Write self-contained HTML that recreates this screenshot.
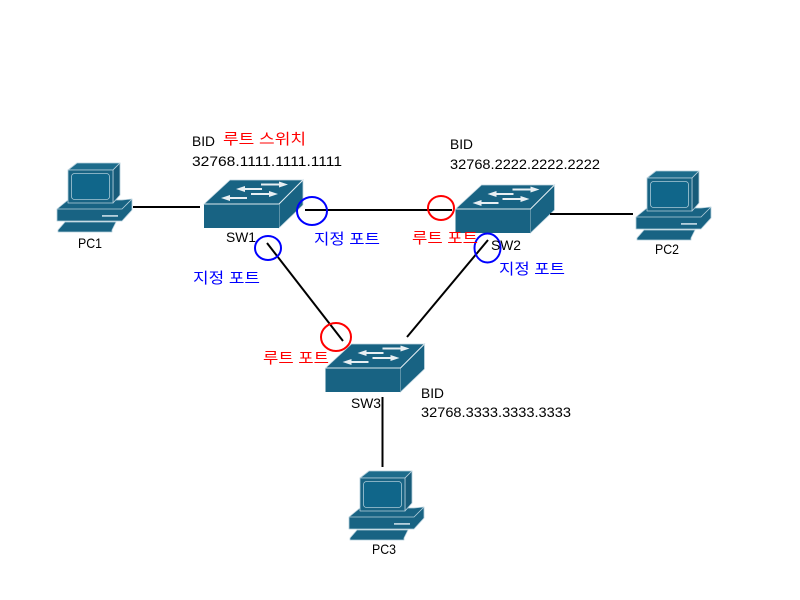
<!DOCTYPE html>
<html>
<head>
<meta charset="utf-8">
<style>
html,body{margin:0;padding:0;background:#fff;width:800px;height:600px;overflow:hidden}
svg{display:block}
text{font-family:"Liberation Sans","Noto Sans CJK KR",sans-serif;font-size:14px;fill:#000}
.k{font-size:15px}
.r{fill:#f00}
.b{fill:#00f}
.l{stroke:#000;stroke-width:2;fill:none}
.c{fill:none;stroke-width:2}
</style>
</head>
<body>
<svg width="800" height="600" viewBox="0 0 800 600" xmlns="http://www.w3.org/2000/svg">
<defs>
<g id="pc" stroke="#b5cfdc" stroke-width="0.8" stroke-linejoin="round" fill="#186383">
  <path d="M58 230L65 222H116L112 230V232H58Z"/>
  <path d="M57 209L68 200H122L132 199V210L122 221H57Z"/>
  <path d="M57 209H122L132 199" fill="none"/>
  <path d="M68 170L77 163H120L113 170Z" fill="#1d6c8c"/>
  <path d="M120 163V195L113 203V170Z" fill="#175b79"/>
  <rect x="68" y="170" width="45" height="33"/>
  <rect x="71.500" y="173.500" width="38" height="26" rx="3" fill="#10668a" stroke="#a9cad8"/>
  <rect x="102" y="215" width="16" height="1.800" fill="#b5cfdc" stroke="none"/>
</g>
<g id="sw">
  <path d="M204 204L230 180H303L279 204Z" fill="#186383" stroke="#c4d8e2" stroke-width="0.8"/>
  <path d="M303 180V205L279 228V204Z" fill="#186383" stroke="#c4d8e2" stroke-width="0.8"/>
  <rect x="204" y="204" width="75" height="24" fill="#186383"/>
  <path d="M204 204H279L303 180" fill="none" stroke="#dbe8ee" stroke-width="1"/>
  <g fill="#e8eff3" stroke="none">
    <path d="M261 183.500H279V181.500L288 184.500L279 187.500V185.500H261Z"/>
    <path d="M245 188H262V190H245V192L236 189L245 186Z"/>
    <path d="M251 193H269V191L278 194L269 197V195H251Z"/>
    <path d="M230 197H247V199H230V201L221 198L230 195Z"/>
  </g>
</g>
</defs>

<use href="#pc"/>
<use href="#pc" transform="translate(579 8)"/>
<use href="#pc" transform="translate(292 308)"/>

<use href="#sw"/>
<use href="#sw" transform="translate(251.500 5)"/>
<use href="#sw" transform="translate(121.500 164)"/>

<line class="l" x1="133" y1="207" x2="200" y2="207"/>
<line class="l" x1="305" y1="210" x2="452" y2="210"/>
<line class="l" x1="550" y1="214" x2="633" y2="214"/>
<line class="l" x1="267" y1="243" x2="343" y2="341"/>
<line class="l" x1="488" y1="240" x2="407" y2="337"/>
<line class="l" x1="382.500" y1="397" x2="382.500" y2="467"/>

<ellipse class="c" cx="312" cy="211" rx="15" ry="14" stroke="#00f"/>
<ellipse class="c" cx="268" cy="248" rx="13" ry="12" stroke="#00f"/>
<ellipse class="c" cx="441" cy="208" rx="13" ry="12" stroke="#f00"/>
<ellipse class="c" cx="487.500" cy="248" rx="13" ry="14.500" stroke="#00f"/>
<ellipse class="c" cx="336" cy="337" rx="15" ry="14" stroke="#f00"/>

<text x="192" y="146" textLength="23" lengthAdjust="spacingAndGlyphs">BID</text>
<text x="192" y="166" textLength="150" lengthAdjust="spacingAndGlyphs">32768.1111.1111.1111</text>
<text x="450" y="149" textLength="23" lengthAdjust="spacingAndGlyphs">BID</text>
<text x="450" y="169" textLength="150" lengthAdjust="spacingAndGlyphs">32768.2222.2222.2222</text>
<text x="421" y="398" textLength="23" lengthAdjust="spacingAndGlyphs">BID</text>
<text x="421" y="417" textLength="150" lengthAdjust="spacingAndGlyphs">32768.3333.3333.3333</text>

<text x="78" y="248" textLength="24" lengthAdjust="spacingAndGlyphs">PC1</text>
<text x="655" y="254" textLength="24" lengthAdjust="spacingAndGlyphs">PC2</text>
<text x="372" y="554" textLength="24" lengthAdjust="spacingAndGlyphs">PC3</text>
<text x="226" y="242" textLength="30" lengthAdjust="spacingAndGlyphs">SW1</text>
<text x="491" y="250" textLength="30" lengthAdjust="spacingAndGlyphs">SW2</text>
<text x="351" y="408" textLength="30" lengthAdjust="spacingAndGlyphs">SW3</text>

<text class="k r" x="223" y="144" textLength="83" lengthAdjust="spacingAndGlyphs">루트 스위치</text>
<text class="k b" x="314" y="244" textLength="66" lengthAdjust="spacingAndGlyphs">지정 포트</text>
<text class="k b" x="193" y="283" textLength="67" lengthAdjust="spacingAndGlyphs">지정 포트</text>
<text class="k b" x="499" y="274" textLength="66" lengthAdjust="spacingAndGlyphs">지정 포트</text>
<text class="k r" x="412" y="243" textLength="66" lengthAdjust="spacingAndGlyphs">루트 포트</text>
<text class="k r" x="263" y="363" textLength="66" lengthAdjust="spacingAndGlyphs">루트 포트</text>
</svg>
</body>
</html>
